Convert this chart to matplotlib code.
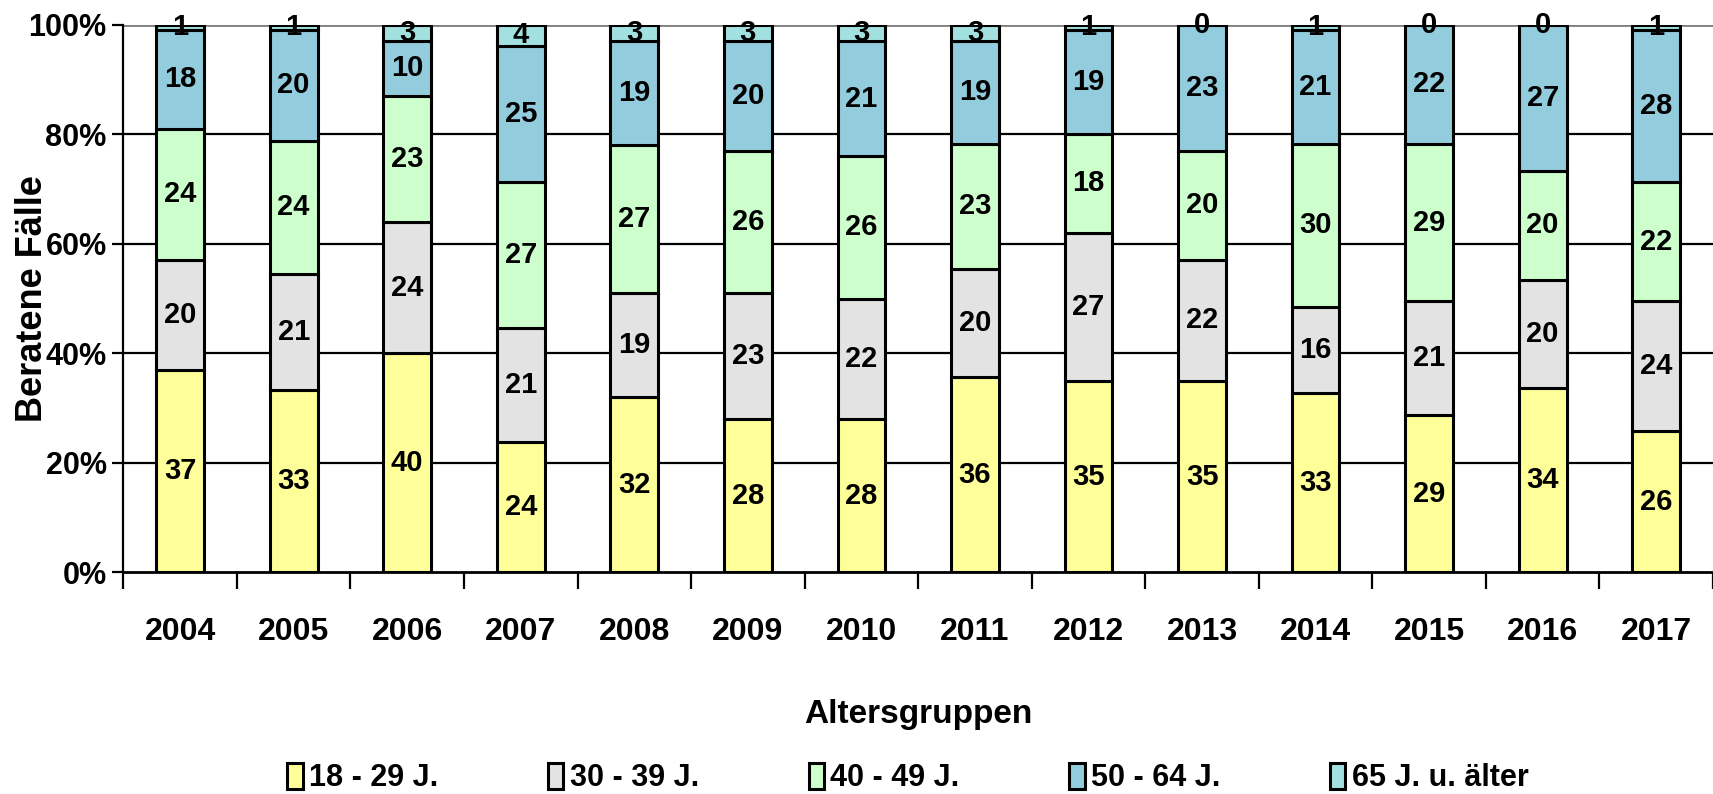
import numpy as np
import matplotlib
matplotlib.use("Agg")
import matplotlib.pyplot as plt
from matplotlib.ticker import FixedLocator, PercentFormatter

plt.rcParams['font.family'] = ['Liberation Sans Narrow', 'Liberation Sans', 'DejaVu Sans']
plt.rcParams['font.weight'] = 'bold'

years = ["2004", "2005", "2006", "2007", "2008", "2009", "2010",
         "2011", "2012", "2013", "2014", "2015", "2016", "2017"]
groups = ["18 - 29 J.", "30 - 39 J.", "40 - 49 J.", "50 - 64 J.", "65 J. u. älter"]
colors = ["#FFFF99", "#E3E3E3", "#CCFFCC", "#93CCDD", "#A3E1E0"]

age_18_29 = [37, 33, 40, 24, 32, 28, 28, 36, 35, 35, 33, 29, 34, 26]
age_30_39 = [20, 21, 24, 21, 19, 23, 22, 20, 27, 22, 16, 21, 20, 24]
age_40_49 = [24, 24, 23, 27, 27, 26, 26, 23, 18, 20, 30, 29, 20, 22]
age_50_64 = [18, 20, 10, 25, 19, 20, 21, 19, 19, 23, 21, 22, 27, 28]
age_65_up = [1, 1, 3, 4, 3, 3, 3, 3, 1, 0, 1, 0, 0, 1]

series = np.array([age_18_29, age_30_39, age_40_49, age_50_64, age_65_up], dtype=float)
shares = series / series.sum(axis=0) * 100   # stacked to 100 %

fig = plt.figure(figsize=(17.13, 7.94), dpi=100)
ax = fig.add_axes([0.072, 0.279, 0.928, 0.690])

x = np.arange(len(years))
bottom = np.zeros(len(years))
handles = []
for i, name in enumerate(groups):
    h = ax.bar(x, shares[i], bottom=bottom, width=0.42, color=colors[i],
               edgecolor="black", linewidth=2.2, label=name, zorder=3)
    handles.append(h)
    for xi, b, s, v in zip(x, bottom, shares[i], series[i]):
        ax.text(xi, b + s / 2, f"{int(v)}", ha="center", va="center",
                fontsize=21, fontweight="bold", zorder=5, clip_on=False)
    bottom += shares[i]

ax.set_xlim(-0.5, len(years) - 0.5)
ax.set_ylim(0, 100)

# gridlines
for yv in [20, 40, 60, 80]:
    ax.axhline(yv, color="black", linewidth=1.6, zorder=1)
ax.axhline(100, color="#808080", linewidth=2.0, zorder=1)

ax.yaxis.set_major_locator(FixedLocator([0, 20, 40, 60, 80, 100]))
ax.yaxis.set_major_formatter(PercentFormatter(decimals=0))
ax.tick_params(axis="y", length=8, width=1.6, labelsize=22, pad=4)

ax.set_xticks(x)
ax.set_xticklabels(years)
ax.tick_params(axis="x", which="major", length=0, labelsize=23, pad=32)
ax.set_xticks(np.arange(-0.5, len(years), 1.0), minor=True)
ax.tick_params(axis="x", which="minor", length=12, width=1.6, direction="out")

for lab in ax.get_xticklabels() + ax.get_yticklabels():
    lab.set_fontweight("bold")

for side in ["top", "right"]:
    ax.spines[side].set_visible(False)
ax.spines["left"].set_linewidth(1.6)
ax.spines["bottom"].set_linewidth(2.0)

ax.set_ylabel("Beratene Fälle", fontsize=26, fontweight="bold")
ax.yaxis.set_label_coords(-0.046, 0.5)
fig.text(0.536, 0.10, "Altersgruppen", ha="center", va="center",
         fontsize=24, fontweight="bold")

fig.legend(handles=handles, labels=groups, loc="center", ncol=5,
           bbox_to_anchor=(0.53, 0.02), frameon=False,
           handlelength=0.5, handleheight=0.95, handletextpad=0.2,
           columnspacing=3.6, prop={"weight": "bold", "size": 22})

fig.savefig("out.png", dpi=100)
